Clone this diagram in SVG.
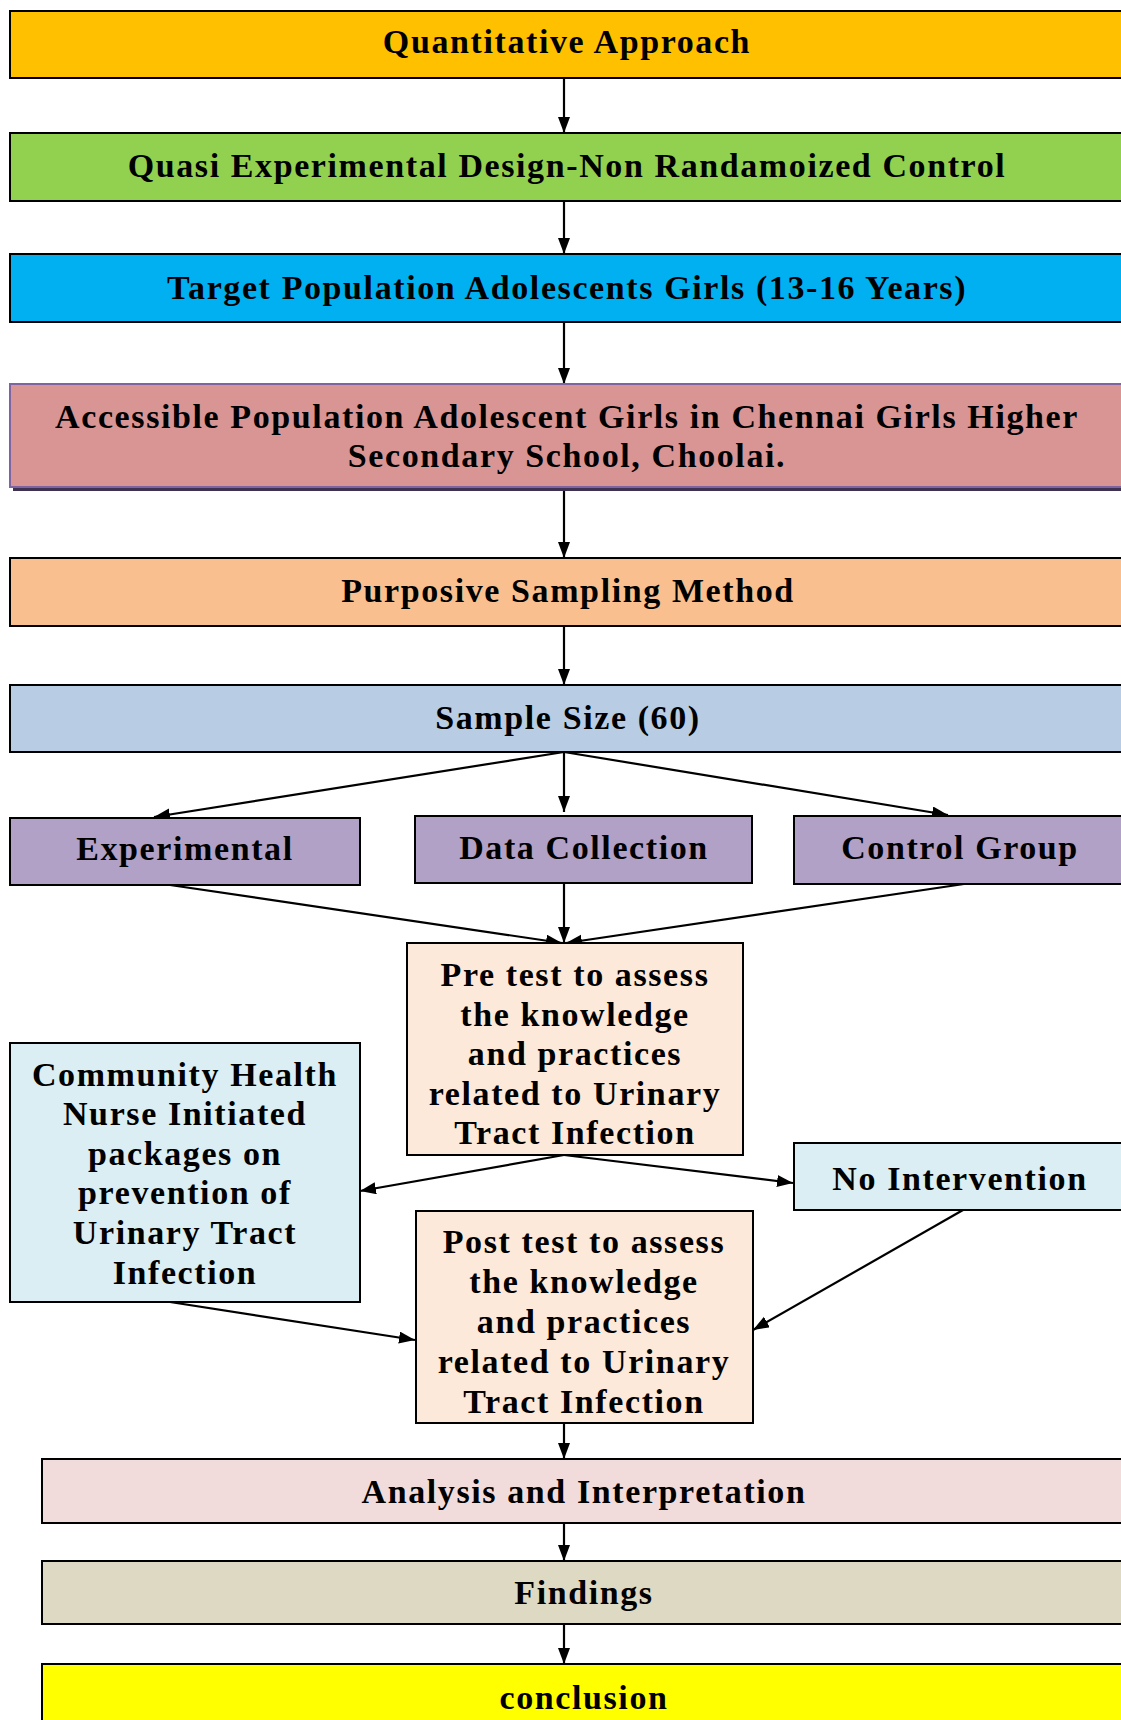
<svg xmlns="http://www.w3.org/2000/svg" width="1121" height="1720" viewBox="0 0 1121 1720">
<style>
  .box{stroke:#000;stroke-width:2}
  .t{font-family:"Liberation Serif","Times New Roman",serif;font-weight:bold;font-size:34px;letter-spacing:1.6px;fill:#000;text-anchor:middle}
  .c{stroke:#000;stroke-width:2.2;fill:none;marker-end:url(#ah)}
</style>
<defs>
  <marker id="ah" markerUnits="userSpaceOnUse" markerWidth="18" markerHeight="14" refX="16" refY="6" orient="auto">
    <path d="M0,0 L16,6 L0,12 z" fill="#000"/>
  </marker>
</defs>
<rect width="1121" height="1720" fill="#fff"/>
<g id="connectors">
  <line class="c" x1="564" y1="78" x2="564" y2="133"/>
  <line class="c" x1="564" y1="201" x2="564" y2="254"/>
  <line class="c" x1="564" y1="322" x2="564" y2="384"/>
  <line class="c" x1="564" y1="491" x2="564" y2="558"/>
  <line class="c" x1="564" y1="626" x2="564" y2="685"/>
  <line class="c" x1="564" y1="752" x2="154" y2="817"/>
  <line class="c" x1="564" y1="752" x2="564" y2="812"/>
  <line class="c" x1="564" y1="752" x2="948" y2="815"/>
  <line class="c" x1="170" y1="885" x2="562" y2="943"/>
  <line class="c" x1="564" y1="883" x2="564" y2="943"/>
  <line class="c" x1="964" y1="884" x2="566" y2="943"/>
  <line class="c" x1="564" y1="1155" x2="360" y2="1191"/>
  <line class="c" x1="564" y1="1155" x2="793" y2="1183"/>
  <line class="c" x1="963" y1="1210" x2="753" y2="1330"/>
  <line class="c" x1="170" y1="1302" x2="415" y2="1340"/>
  <line class="c" x1="564" y1="1423" x2="564" y2="1459"/>
  <line class="c" x1="564" y1="1523" x2="564" y2="1561"/>
  <line class="c" x1="564" y1="1624" x2="564" y2="1664"/>
</g>
<g id="quantitative">
  <rect class="box" x="10" y="11" width="1115" height="67" fill="#FFC000"/>
  <text class="t" x="567" y="53">Quantitative Approach</text>
</g>
<g id="quasi">
  <rect class="box" x="10" y="133" width="1115" height="68" fill="#92D050"/>
  <text class="t" x="567" y="177">Quasi Experimental Design-Non Randamoized Control</text>
</g>
<g id="target">
  <rect class="box" x="10" y="254" width="1115" height="68" fill="#00B0F0"/>
  <text class="t" x="567" y="299">Target Population Adolescents Girls (13-16 Years)</text>
</g>
<g id="accessible">
  <rect x="13" y="388" width="1115" height="103" fill="#3F3151"/>
  <rect x="10" y="384" width="1115" height="103" fill="#D99594" stroke="#8064A2" stroke-width="2"/>
  <text class="t" x="567" y="428">Accessible Population Adolescent Girls in Chennai Girls Higher</text>
  <text class="t" x="567" y="467">Secondary School, Choolai.</text>
</g>
<g id="purposive">
  <rect class="box" x="10" y="558" width="1115" height="68" fill="#FABF8F"/>
  <text class="t" x="568" y="602">Purposive Sampling Method</text>
</g>
<g id="sample">
  <rect class="box" x="10" y="685" width="1115" height="67" fill="#B8CCE4"/>
  <text class="t" x="568" y="729">Sample Size (60)</text>
</g>
<g id="experimental">
  <rect class="box" x="10" y="818" width="350" height="67" fill="#B2A1C7"/>
  <text class="t" x="185" y="860">Experimental</text>
</g>
<g id="datacollection">
  <rect class="box" x="415" y="816" width="337" height="67" fill="#B2A1C7"/>
  <text class="t" x="584" y="859">Data Collection</text>
</g>
<g id="control">
  <rect class="box" x="794" y="816" width="331" height="68" fill="#B2A1C7"/>
  <text class="t" x="960" y="859">Control Group</text>
</g>
<g id="pretest">
  <rect class="box" x="407" y="943" width="336" height="212" fill="#FDE9D9"/>
  <text class="t" x="575" y="986">Pre test to assess</text>
  <text class="t" x="575" y="1026">the knowledge</text>
  <text class="t" x="575" y="1065">and practices</text>
  <text class="t" x="575" y="1105">related to Urinary</text>
  <text class="t" x="575" y="1144">Tract Infection</text>
</g>
<g id="community">
  <rect class="box" x="10" y="1043" width="350" height="259" fill="#DAEEF3"/>
  <text class="t" x="185" y="1086">Community Health</text>
  <text class="t" x="185" y="1125">Nurse Initiated</text>
  <text class="t" x="185" y="1165">packages on</text>
  <text class="t" x="185" y="1204">prevention of</text>
  <text class="t" x="185" y="1244">Urinary Tract</text>
  <text class="t" x="185" y="1284">Infection</text>
</g>
<g id="nointervention">
  <rect class="box" x="794" y="1143" width="331" height="67" fill="#DAEEF3"/>
  <text class="t" x="960" y="1190">No Intervention</text>
</g>
<g id="posttest">
  <rect class="box" x="416" y="1211" width="337" height="212" fill="#FDE9D9"/>
  <text class="t" x="584" y="1253">Post test to assess</text>
  <text class="t" x="584" y="1293">the knowledge</text>
  <text class="t" x="584" y="1333">and practices</text>
  <text class="t" x="584" y="1373">related to Urinary</text>
  <text class="t" x="584" y="1413">Tract Infection</text>
</g>
<g id="analysis">
  <rect class="box" x="42" y="1459" width="1085" height="64" fill="#F2DCDB"/>
  <text class="t" x="584" y="1503">Analysis and Interpretation</text>
</g>
<g id="findings">
  <rect class="box" x="42" y="1561" width="1085" height="63" fill="#DDD9C3"/>
  <text class="t" x="584" y="1604">Findings</text>
</g>
<g id="conclusion">
  <rect class="box" x="42" y="1664" width="1085" height="70" fill="#FFFF00"/>
  <text class="t" x="584" y="1709">conclusion</text>
</g>
</svg>
